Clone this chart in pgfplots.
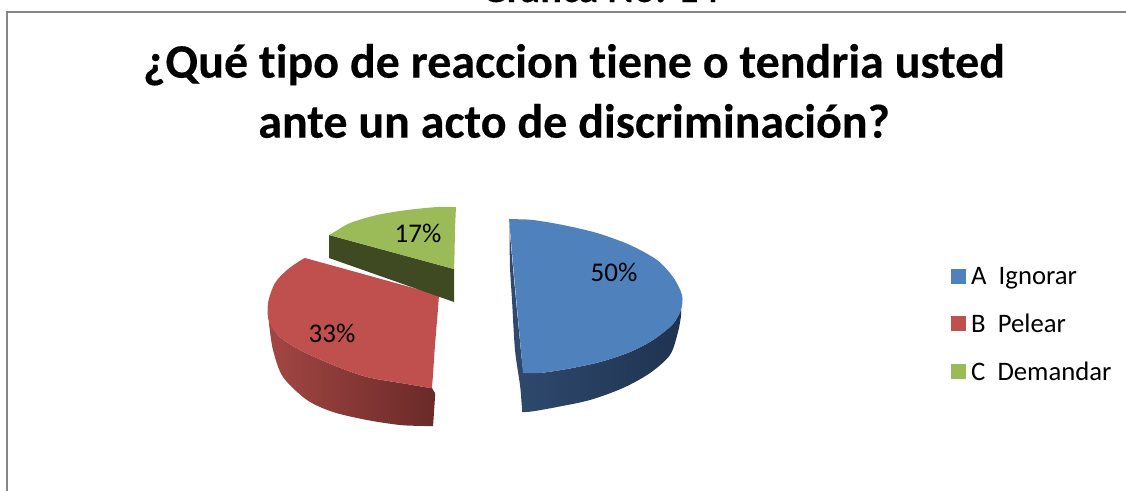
\documentclass[border=0pt]{standalone}
\usepackage{pgfplots}
\pgfplotsset{compat=1.18}
\usepackage{fontspec}
\setmainfont{Carlito}[Ligatures=NoCommon,BoldFeatures={FakeBold=0.25}]
\definecolor{blueT}{HTML}{4F81BD}
\definecolor{blueL}{HTML}{2F4A6E}
\definecolor{blueD}{HTML}{1F3350}
\definecolor{redT}{HTML}{C0504D}
\definecolor{redL}{HTML}{A34643}
\definecolor{redD}{HTML}{692A28}
\definecolor{greenT}{HTML}{9BBB59}
\definecolor{greenS}{HTML}{3F4A22}
\definecolor{frameC}{HTML}{868686}
\begin{document}
\begin{tikzpicture}
\path[use as bounding box,clip] (0,0) rectangle (1126pt,490pt);
\begin{axis}[at={(0,0)},anchor=south west,scale only axis,width=1126pt,height=490pt,
 xmin=0,xmax=1126,ymin=0,ymax=490,y dir=reverse,axis lines=none,clip=true,
 legend cell align=left,
 legend style={at={(axis cs:951,265)},anchor=north west,draw=none,fill=none,font=\fontsize{26.7}{28}\selectfont,row sep=24pt,inner sep=0pt,nodes={inner xsep=5pt,inner ysep=2pt}},
 legend image code/.code={\fill[#1] (0pt,-7.5pt) rectangle (15pt,7.5pt);},
]
% frame
\addplot[forget plot,draw=frameC,line width=2pt] coordinates {(7,500) (7,12) (1140,12)};
% blue side
\addplot[forget plot,smooth,draw=none,left color=blueL,middle color=blueD,right color=blueD] coordinates {(509.5,225)(509.5,230)(510,267)(512,300)(515,350)(520,385)(521.5,402)(522,408)(522,410.5)(522,412)(523,412)(526,412)(535,411)(557,407)(590,400)(623,388)(650,373)(670,355)(678,332)(681,316)(681,312)(681,310)(680,312)(678,316)(672,325)(653,340)(630,352)(600,362)(567,369)(540,373)(528,373)(525,373)(523,372)(522.8,368)(521,352)(515,290)(510.5,240)(509.5,225)};
\addplot[smooth,fill=blueT,draw=none] coordinates {(509,219)(511,219)(516,219.2)(533,220)(563,225)(597,233)(630,245)(657,260)(673,277)(682,295)(681,310)(672,325)(653,340)(630,352)(600,362)(567,369)(540,373)(528,373)(525,373)(523,373)(522.8,371)(522.3,365)(521.2,353)(519.1,330)(512.7,260)(510.9,240)(510,230)(509.45,224)(509.2,221)(509,219)};
\addlegendentry{A\ \ Ignorar}
% red side
\addplot[forget plot,smooth,draw=none,left color=redL,right color=redD] coordinates {(269,322)(269,324)(273,350)(283,377)(307,400)(333,412)(367,420)(400,425)(425,426)(431,426)(433,426)(433.2,424)(434,412)(435,397)(435,393)(433,390)(432,388)(426,387.3)(407,384)(367,377)(333,365)(300,350)(280,337)(269,322)};
\addplot[smooth,fill=redT,draw=none] coordinates {(305,258)(306,258.3)(309,259.1)(317,261.3)(337,266.8)(407,286.2)(427,291.7)(435,293.9)(438,294.7)(439,295)(438.8,298)(438.4,303)(437.5,315)(435,345)(433.2,372)(432.5,381)(432.2,385)(432,388)(430,388)(426,387.3)(418,386)(407,384)(367,377)(333,365)(300,350)(280,337)(269,322)(268,303)(275,283)(287,270)(298,262)(303,259)(305,258)};
\addlegendentry{B\ \ Pelear}
% green
\addplot[forget plot,fill=greenS,draw=none] coordinates {(329,235)(454,269)(454,302)(329,258)} -- cycle;
\addplot[smooth,fill=greenT,draw=none] coordinates {(329,235)(331,234)(336,231)(350,223)(377,215)(407,210)(437,207)(450,207)(454,207)(456,207)(455.9,209)(455.6,215)(455,230)(454.6,250)(454.3,262)(454.1,266)(454,269)(452,268.5)(448,267.4)(440,265.2)(420,259.8)(360,243.4)(345,239.4)(337,237.2)(332,235.8)(329,235)};
\addlegendentry{C\ \ Demandar}
\node at (axis cs:418,233) {\fontsize{27}{28}\selectfont 17\%};
\node at (axis cs:332,333) {\fontsize{27}{28}\selectfont 33\%};
\node at (axis cs:614,272) {\fontsize{27}{28}\selectfont 50\%};
\node[align=center,font=\fontsize{48}{60}\selectfont\bfseries] at (axis cs:574,91) {¿Qué tipo de reaccion tiene o tendria usted\\ante un acto de discriminación?};
\node[anchor=base,font=\fontsize{40}{40}\selectfont\bfseries] at (axis cs:600,2) {Gráfica No. 14};
\end{axis}
\end{tikzpicture}
\end{document}
